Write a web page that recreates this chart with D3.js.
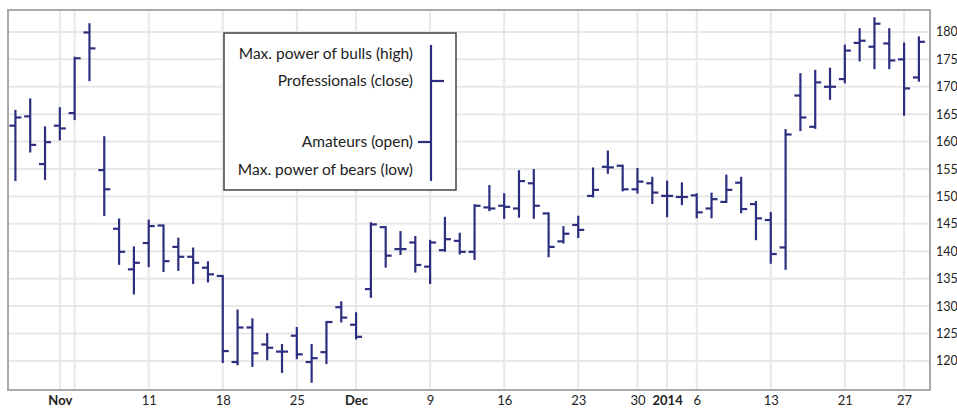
<!DOCTYPE html>
<html>
<head>
<meta charset="utf-8">
<script src="https://cdn.jsdelivr.net/npm/d3@7"></script>
<style>
  body { margin: 0; background: #fff; }
  svg text { font-family: Lato, "Open Sans", sans-serif; fill: #222; }
</style>
</head>
<body>
<div id="my_chart"></div>
<script>
const width = 957
const height = 408

// trading days shown on the chart
const days = ["2013-10-29","2013-10-30","2013-10-31","2013-11-01","2013-11-04","2013-11-05","2013-11-06","2013-11-07","2013-11-08",
  "2013-11-11","2013-11-12","2013-11-13","2013-11-14","2013-11-15","2013-11-18","2013-11-19","2013-11-20","2013-11-21","2013-11-22",
  "2013-11-25","2013-11-26","2013-11-27","2013-11-29","2013-12-02","2013-12-03","2013-12-04","2013-12-05","2013-12-06",
  "2013-12-09","2013-12-10","2013-12-11","2013-12-12","2013-12-13","2013-12-16","2013-12-17","2013-12-18","2013-12-19","2013-12-20",
  "2013-12-23","2013-12-24","2013-12-26","2013-12-27","2013-12-30","2013-12-31","2014-01-02","2014-01-03",
  "2014-01-06","2014-01-07","2014-01-08","2014-01-09","2014-01-10","2014-01-13","2014-01-14","2014-01-15","2014-01-16","2014-01-17",
  "2014-01-21","2014-01-22","2014-01-23","2014-01-24","2014-01-27","2014-01-28"]

const open  = [162.9,164.6,155.9,162.9,165.2,179.9,154.8,144.1,136.7, 141.5,144.7,140.8,139.0,137.0,135.5,119.8,126.1,123.0,121.7,
  124.6,119.8,121.6,129.8,126.6,133.1,144.4,140.4,141.6, 137.2,140.2,141.9,139.9,148.0,148.3,147.8,152.4,146.9,141.8,
  144.8,150.1,155.4,155.6,151.3,152.4,150.1,149.9, 150.2,147.8,149.0,152.5,148.6,145.7,140.7,168.4,162.7,170.0,
  171.4,178.0,177.3,177.9,175.0,171.7]
const high  = [165.6,167.7,162.6,166.1,175.3,181.4,160.8,145.8,140.7, 145.6,144.7,142.3,140.5,138.0,135.5,129.2,127.6,124.9,122.9,
  126.0,122.9,127.1,130.7,128.7,145.1,144.4,143.5,142.6, 141.9,146.1,143.2,148.4,151.9,150.4,154.6,154.8,146.9,144.4,
  146.3,155.1,158.2,155.6,155.0,153.4,152.7,152.4, 150.4,150.5,153.8,153.4,149.0,147.0,162.1,172.3,172.9,173.3,
  177.5,180.5,182.5,180.5,177.9,179.0]
const low   = [153.0,158.2,153.2,160.4,164.1,171.2,146.6,137.7,132.3, 137.3,136.4,136.6,134.2,134.5,119.8,119.4,119.1,120.3,118.0,
  120.5,116.2,119.6,127.2,124.1,131.7,137.2,139.5,136.3, 134.2,140.1,139.6,138.6,147.5,146.1,146.3,146.1,139.1,141.6,
  142.6,150.0,154.3,151.1,150.7,148.8,146.4,148.6, 146.2,146.2,149.0,147.1,142.2,137.9,136.8,162.1,162.5,167.8,
  170.8,174.8,173.4,173.4,164.9,171.1]
const close = [164.4,159.4,159.9,162.4,175.2,177.0,151.3,139.9,137.9, 144.6,138.2,139.0,137.9,135.8,121.8,126.1,121.4,122.4,121.7,
  121.2,120.5,127.1,127.9,124.4,144.9,139.2,140.4,137.5, 141.6,142.2,139.9,148.3,147.8,148.1,152.8,148.3,140.8,143.2,
  143.9,151.2,155.3,151.3,152.7,150.7,150.1,149.9, 147.1,149.5,151.2,147.7,146.0,139.5,161.3,164.4,170.8,170.0,
  176.6,178.4,181.5,174.8,169.7,178.2]

// x ticks: first trading day of each week and of each month
const tickDays   = ["2013-11-01","2013-11-04","2013-11-11","2013-11-18","2013-11-25","2013-12-02","2013-12-09","2013-12-16",
  "2013-12-23","2013-12-30","2014-01-02","2014-01-06","2014-01-13","2014-01-21","2014-01-27"]
const tickLabels = ["Nov","","11","18","25","Dec","9","16","23","30","2014","6","13","21","27"]
const monthTicks = ["Nov","Dec","2014"]

const yTicks = [120,125,130,135,140,145,150,155,160,165,170,175,180]

const legendItems = ["Max. power of bulls (high)","Professionals (close)","Amateurs (open)","Max. power of bears (low)"]

const data = days.map((d, i) => ({ i: i, date: d, open: open[i], high: high[i], low: low[i], close: close[i] }))
const tickIdx = tickDays.map(d => days.indexOf(d))

const barColor = "#2c2f80"
const gridColor = "#e8e8e8"

const plot = { left: 8, right: 930, top: 10, bottom: 390 }

const x = d3.scaleLinear()
  .domain([-0.5, days.length - 0.25])
  .range([plot.left, plot.right])

const y = d3.scaleLinear()
  .domain([114.7, 184])
  .range([plot.bottom, plot.top])

const svg = d3.select("#my_chart")
  .append("svg")
    .attr("width", width)
    .attr("height", height)

// grid
svg.append("g")
  .selectAll("line")
  .data(yTicks)
  .join("line")
    .attr("x1", plot.left).attr("x2", plot.right)
    .attr("y1", d => y(d)).attr("y2", d => y(d))
    .attr("stroke", gridColor)
    .attr("stroke-width", 2)

svg.append("g")
  .selectAll("line")
  .data(tickIdx)
  .join("line")
    .attr("x1", d => x(d)).attr("x2", d => x(d))
    .attr("y1", plot.top).attr("y2", plot.bottom)
    .attr("stroke", gridColor)
    .attr("stroke-width", 2)

// frame
svg.append("rect")
  .attr("x", plot.left).attr("y", plot.top)
  .attr("width", plot.right - plot.left).attr("height", plot.bottom - plot.top)
  .attr("fill", "none")
  .attr("stroke", "#a9a9a9")
  .attr("stroke-width", 2)

// axes
const yAxis = svg.append("g")
  .attr("transform", `translate(${plot.right},0)`)
  .call(d3.axisRight(y).tickValues(yTicks).tickSize(0).tickPadding(6))
yAxis.select(".domain").remove()
yAxis.selectAll("text").style("font-size", "12.5px").style("fill", "#222")

const xAxis = svg.append("g")
  .attr("transform", `translate(0,${plot.bottom})`)
  .call(d3.axisBottom(x).tickValues(tickIdx).tickSize(0).tickPadding(6)
    .tickFormat((d, i) => tickLabels[i]))
xAxis.select(".domain").remove()
xAxis.selectAll("text")
  .style("font-size", "13px")
  .style("fill", "#222")
  .style("font-weight", (d, i) => monthTicks.includes(tickLabels[i]) ? "bold" : "normal")

// OHLC bars
const bars = svg.append("g")
  .selectAll("g")
  .data(data)
  .join("g")
    .attr("stroke", barColor)
    .attr("stroke-width", 2.2)

bars.append("line")
  .attr("x1", d => x(d.i)).attr("x2", d => x(d.i))
  .attr("y1", d => y(d.high) - 1).attr("y2", d => y(d.low) + 1)
bars.append("line")
  .attr("x1", d => x(d.i) - 6).attr("x2", d => x(d.i))
  .attr("y1", d => y(d.open)).attr("y2", d => y(d.open))
bars.append("line")
  .attr("x1", d => x(d.i)).attr("x2", d => x(d.i) + 6)
  .attr("y1", d => y(d.close)).attr("y2", d => y(d.close))

// legend
const legend = svg.append("g")
legend.append("rect")
  .attr("x", 224).attr("y", 33)
  .attr("width", 232).attr("height", 157)
  .attr("fill", "#fff")
  .attr("stroke", "#444")
  .attr("stroke-width", 1.5)

const legY = [54, 81, 142, 170]
legend.selectAll("text")
  .data(legendItems)
  .join("text")
    .attr("x", 413)
    .attr("y", (d, i) => legY[i])
    .attr("dy", "0.35em")
    .attr("text-anchor", "end")
    .style("font-size", "15.5px")
    .text(d => d)

legend.append("line")
  .attr("x1", 431).attr("x2", 431).attr("y1", 45).attr("y2", 181)
  .attr("stroke", barColor).attr("stroke-width", 2.2)
legend.append("line")
  .attr("x1", 431).attr("x2", 444).attr("y1", legY[1]).attr("y2", legY[1])
  .attr("stroke", barColor).attr("stroke-width", 2.2)
legend.append("line")
  .attr("x1", 418).attr("x2", 431).attr("y1", legY[2]).attr("y2", legY[2])
  .attr("stroke", barColor).attr("stroke-width", 2.2)
</script>
</body>
</html>
